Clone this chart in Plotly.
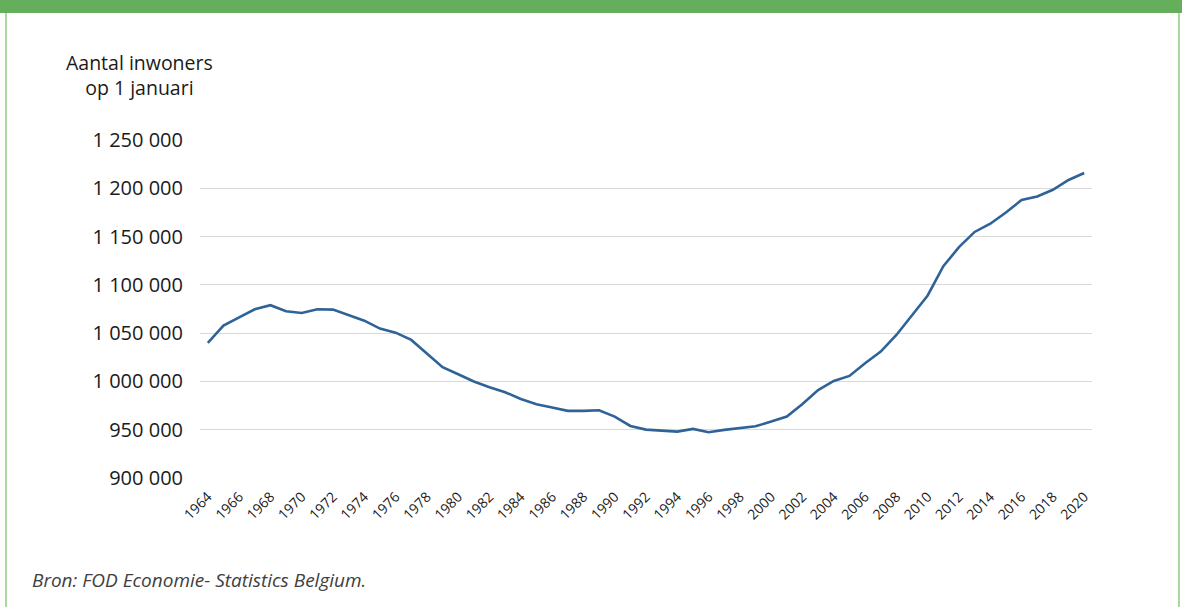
import plotly.graph_objects as go

years = list(range(1964, 2021))
population = [
    1040000, 1057800, 1066400, 1074700, 1078900, 1072700, 1070900, 1074700, 1074400, 1068800,
    1062900, 1054700, 1050500, 1043000, 1028500, 1014700, 1007500, 1000000, 994000, 988800,
    981900, 976400, 972900, 969500, 969500, 970200, 963600, 953900, 950100, 949400,
    948000, 950800, 947400, 949800, 951900, 953600, 958400, 963600, 976700, 991000,
    1000500, 1005700, 1018800, 1030900, 1048100, 1068800, 1089000, 1119300, 1139000, 1154800,
    1163300, 1175000, 1187900, 1191500, 1198500, 1208600, 1215800,
]
ytick_vals = [900000, 950000, 1000000, 1050000, 1100000, 1150000, 1200000, 1250000]
ytick_text = ["900 000", "950 000", "1 000 000", "1 050 000", "1 100 000", "1 150 000", "1 200 000", "1 250 000"]
xtick_vals = list(range(1964, 2021, 2))
xtick_text = [str(y) for y in xtick_vals]

W, H = 1182, 607
L, R, T, B = 200, 1092, 140, 478


def px(x):
    return (x - L) / (R - L)


def py(y):
    return (B - y) / (B - T)


fig = go.Figure()
fig.add_trace(go.Scatter(
    x=years, y=population, mode="lines",
    line=dict(color="#2F6398", width=2.6),
    hoverinfo="x+y", showlegend=False,
))

fig.update_layout(
    width=W, height=H,
    margin=dict(l=L, r=W - R, t=T, b=H - B, pad=0),
    paper_bgcolor="white", plot_bgcolor="white",
    font=dict(family="Open Sans", color="#1a1a1a"),
    xaxis=dict(
        range=[1963.5, 2020.5], tickmode="array", tickvals=xtick_vals, ticktext=xtick_text,
        tickangle=-45, tickfont=dict(size=14, color="#1a1a1a"), ticklabelstandoff=7,
        showgrid=False, zeroline=False, showline=False, ticks="",
    ),
    yaxis=dict(
        range=[900000, 1250000], tickmode="array", tickvals=ytick_vals, ticktext=ytick_text,
        tickfont=dict(size=20, color="#1a1a1a"), ticklabelstandoff=16,
        showgrid=True, gridcolor="#D9D9D9", gridwidth=1, zeroline=False, showline=False, ticks="",
    ),
    shapes=[
        dict(type="rect", xref="paper", yref="paper", x0=px(0), x1=px(W), y0=py(13), y1=py(0),
             fillcolor="#65AE5B", line=dict(width=0), layer="above"),
        dict(type="line", xref="paper", yref="paper", x0=px(6), x1=px(6), y0=py(13), y1=py(H),
             line=dict(color="#A9D8A0", width=2)),
        dict(type="line", xref="paper", yref="paper", x0=px(1179), x1=px(1179), y0=py(13), y1=py(H),
             line=dict(color="#A9D8A0", width=2)),
    ],
    annotations=[
        dict(text="Aantal inwoners<br>op 1 januari", xref="paper", yref="paper",
             x=px(139.5), y=py(75), xanchor="center", yanchor="middle", showarrow=False,
             align="center", font=dict(size=19.5, color="#1a1a1a", family="Open Sans")),
        dict(text="<i>Bron: FOD Economie- Statistics Belgium.</i>", xref="paper", yref="paper",
             x=px(30), y=py(580), xanchor="left", yanchor="middle", showarrow=False,
             font=dict(size=19, color="#404040", family="Open Sans")),
    ],
)

fig.write_html("out.html", config={"displayModeBar": False},
               post_script="document.body.style.margin='0';document.body.style.overflow='hidden';")
